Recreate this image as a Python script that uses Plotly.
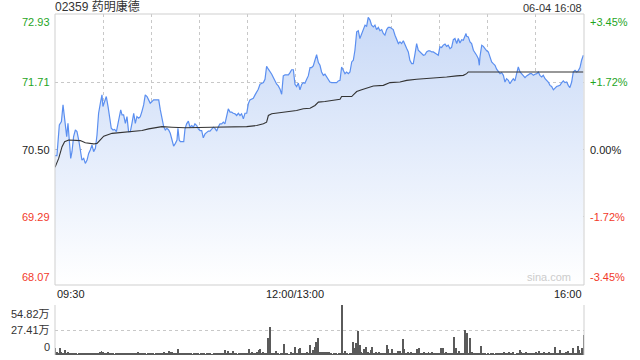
import plotly.graph_objects as go

# ---------------- data ----------------
title_text = "02359 药明康德"
date_text = "06-04 16:08"
prev_close = 70.50
y_ticks = [72.93, 71.71, 70.50, 69.29, 68.07]
pct_ticks = ["+3.45%", "+1.72%", "0.00%", "-1.72%", "-3.45%"]
vol_ticks = [0, 27.41, 54.82]
vol_tick_text = ["0", "27.41万", "54.82万"]
x_labels = ["09:30", "12:00/13:00", "16:00"]
x_label_pos = [0, 150, 330]

# minutes since 09:30 (lunch break removed) and price
price_t = [0, 1.2, 2.7, 4.0, 5.0, 5.8, 6.4, 7.3, 8.1, 8.9, 9.8, 10.6, 11.6, 12.7, 13.7, 14.8, 15.8, 16.8, 17.9, 18.9,
           20.0, 21.0, 22.0, 23.1, 24.1, 25.2, 26.2, 27.2, 28.3, 29.3, 29.9, 31.0, 32.0, 33.1, 34.1, 35.1, 36.2, 37.2, 38.3, 39.3,
           40.3, 41.0, 41.8, 42.8, 43.9, 44.9, 45.9, 47.0, 48.0, 49.1, 50.1, 51.1, 52.2, 53.2, 54.2, 55.3, 56.3, 57.4, 58.4, 59.4,
           60.5, 61.5, 62.6, 64.7, 65.7, 66.7, 67.8, 68.8, 69.8, 70.9, 71.9, 73.0, 74.0, 75.1, 76.1, 76.7, 77.5, 78.2, 79.2, 80.3,
           81.1, 82.1, 83.2, 84.2, 85.3, 86.3, 87.3, 88.4, 89.4, 90.5, 91.5, 92.5, 93.6, 94.6, 95.7, 96.7, 97.7, 98.8, 99.8, 100.9,
           101.9, 102.9, 104.0, 105.0, 106.0, 107.1, 108.1, 109.2, 110.2, 111.2, 112.3, 113.3, 114.4, 115.4, 116.4, 117.5, 118.5, 119.6, 120.6, 121.6,
           122.7, 123.7, 124.8, 125.8, 126.8, 127.9, 128.9, 130.0, 131.0, 132.0, 133.1, 134.1, 135.2, 136.2, 137.2, 138.3, 139.3, 140.4, 141.4, 142.4,
           143.5, 144.5, 145.6, 146.6, 147.6, 148.7, 149.7, 150.7, 151.8, 152.8, 153.9, 154.9, 155.9, 157.0, 158.0, 159.1, 160.1, 161.1, 162.2, 163.2,
           164.3, 165.3, 166.3, 167.4, 168.4, 169.5, 170.5, 171.5, 172.6, 173.6, 174.7, 175.7, 176.7, 177.8, 178.8, 179.9, 180.9, 181.9, 183.0, 184.0,
           185.1, 186.1, 187.1, 188.2, 189.2, 190.2, 191.3, 192.3, 193.4, 194.4, 195.4, 196.5, 197.5, 198.6, 199.6, 200.6, 201.7, 202.7, 203.8, 204.8,
           205.8, 206.9, 207.9, 209.0, 210.0, 211.0, 212.1, 213.1, 214.2, 215.2, 216.2, 217.3, 218.3, 219.4, 220.4, 221.4, 222.5, 223.5, 224.6, 225.6,
           226.6, 227.7, 228.7, 229.8, 230.8, 231.8, 232.9, 233.9, 235.0, 236.0, 237.0, 238.1, 239.1, 240.1, 241.2, 242.2, 243.3, 244.3, 245.3,
           246.4, 247.4, 248.5, 249.5, 250.6, 251.6, 252.6, 253.7, 254.7, 255.8, 256.4, 256.8, 257.8, 258.9, 259.9, 261.0, 262.0, 263.0, 264.1, 264.7,
           265.1, 266.2, 267.2, 268.2, 269.3, 270.3, 271.3, 272.4, 273.4, 274.5, 275.5, 276.5, 277.6, 278.6, 279.7, 280.7, 281.7, 282.8, 283.8, 284.9,
           285.9, 286.9, 288.0, 289.0, 290.1, 291.1, 292.1, 293.2, 294.2, 295.3, 296.3, 297.3, 298.4, 299.4, 300.5, 301.5, 302.5, 303.6, 304.6, 305.7,
           306.7, 307.7, 308.8, 309.8, 310.9, 311.9, 312.9, 314.0, 315.0, 316.1, 317.1, 318.1, 319.2, 320.2, 321.2, 322.3, 323.3, 324.4, 325.4, 326.4,
           327.5, 328.5, 329.6]
price_p = [70.39, 70.39, 70.94, 71.00, 71.30, 71.09, 70.85, 70.73, 70.97, 70.58, 70.34, 70.46, 70.73, 70.85, 70.82, 70.67, 70.46, 70.31, 70.34, 70.25,
           70.31, 70.43, 70.49, 70.58, 70.46, 70.52, 70.76, 71.15, 71.33, 71.48, 71.27, 71.36, 71.45, 71.27, 71.03, 70.88, 70.85, 70.86, 70.82, 70.97,
           71.15, 71.21, 71.12, 71.12, 70.97, 71.09, 70.82, 70.82, 70.97, 71.15, 70.97, 71.09, 71.06, 71.09, 71.18, 71.30, 71.48, 71.45, 71.39, 71.33,
           71.36, 71.39, 71.39, 71.39, 71.21, 71.03, 70.91, 70.85, 70.88, 70.85, 70.79, 70.67, 70.56, 70.61, 70.67, 70.88, 70.67, 70.64, 70.64, 70.64,
           70.87, 70.96, 71.01, 70.90, 70.93, 70.90, 70.96, 70.93, 70.87, 70.84, 70.84, 70.71, 70.78, 70.81, 70.83, 70.83, 70.87, 70.90, 70.88, 70.83,
           70.91, 70.96, 70.96, 70.99, 70.96, 71.08, 71.23, 71.17, 71.17, 71.15, 71.14, 71.11, 71.15, 71.11, 71.14, 71.05, 71.15, 71.15, 71.32, 71.39,
           71.41, 71.42, 71.48, 71.53, 71.58, 71.67, 71.69, 71.70, 71.76, 71.99, 71.94, 71.90, 71.85, 71.79, 71.73, 71.67, 71.64, 71.58, 71.49, 71.82,
           71.84, 71.84, 71.84, 71.88, 71.93, 71.93, 71.67, 71.63, 71.69, 71.57, 71.67, 71.70, 71.69, 71.76, 71.82, 71.97, 71.97, 72.00, 72.12, 72.20,
           72.06, 72.01, 71.89, 71.83, 71.85, 71.80, 71.77, 71.71, 71.70, 71.70, 71.70, 71.70, 71.73, 71.74, 71.98, 71.91, 71.86, 71.89, 71.86, 71.89,
           72.07, 72.10, 72.28, 72.61, 72.63, 72.49, 72.58, 72.67, 72.73, 72.71, 72.87, 72.82, 72.73, 72.70, 72.73, 72.65, 72.69, 72.63, 72.65, 72.58,
           72.55, 72.65, 72.69, 72.69, 72.67, 72.65, 72.55, 72.49, 72.40, 72.43, 72.40, 72.45, 72.37, 72.31, 72.25, 72.10, 72.04, 72.04, 72.22, 72.40,
           72.28, 72.25, 72.22, 72.19, 72.20, 72.25, 72.27, 72.27, 72.25, 72.25, 72.23, 72.21, 72.19, 72.34, 72.33, 72.37, 72.39, 72.35, 72.37,
           72.31, 72.33, 72.47, 72.49, 72.40, 72.49, 72.41, 72.47, 72.46, 72.55, 72.58, 72.53, 72.52, 72.43, 72.40, 72.28, 72.22, 72.19, 72.13, 72.01,
           72.16, 72.37, 72.35, 72.31, 72.27, 72.25, 72.16, 72.07, 72.04, 72.01, 71.94, 71.91, 71.86, 71.88, 71.83, 71.71, 71.77, 71.74, 71.68, 71.73,
           71.77, 71.73, 71.84, 71.98, 71.89, 71.86, 71.83, 71.79, 71.82, 71.85, 71.86, 71.86, 71.83, 71.85, 71.86, 71.89, 71.83, 71.80, 71.83, 71.77,
           71.74, 71.71, 71.65, 71.63, 71.57, 71.60, 71.63, 71.64, 71.65, 71.70, 71.73, 71.70, 71.71, 71.65, 71.61, 71.71, 71.89, 71.92, 71.89, 71.91,
           71.97, 72.10, 72.19]

avg_t = [0, 2.3, 4.4, 6.0, 8.5, 15.8, 18.9, 24.1, 26.2, 28.3, 30.4, 35.6, 46.0, 54.3, 58.4, 60.5, 66.7, 73.0, 81.1, 97.7,
         118.5, 119.6, 125.8, 130.0, 132.0, 133.1, 135.2, 138.3, 143.5, 147.6, 150.7, 154.9, 159.1, 162.2, 164.3, 168.4, 175.7, 177.8, 178.8, 185.1,
         186.1, 188.2, 191.3, 194.4, 198.6, 204.8, 209.0, 215.2, 219.4, 225.6, 231.8, 238.1, 244.3, 250.6, 254.7, 256.8, 257.8, 329.6]
avg_p = [70.18, 70.34, 70.55, 70.64, 70.67, 70.66, 70.62, 70.60, 70.61, 70.68, 70.74, 70.79, 70.82, 70.84, 70.87, 70.88, 70.91, 70.90, 70.89, 70.90,
         70.90, 70.91, 70.93, 70.96, 70.99, 71.11, 71.14, 71.15, 71.17, 71.19, 71.20, 71.23, 71.24, 71.29, 71.35, 71.36, 71.39, 71.40, 71.45, 71.45,
         71.48, 71.54, 71.57, 71.60, 71.64, 71.65, 71.70, 71.71, 71.74, 71.76, 71.77, 71.79, 71.80, 71.82, 71.83, 71.86, 71.89, 71.89]

# volume per minute (万股)
volume = [8.0, 3.7, 2.2, 7.3, 2.9, 2.0, 5.5, 2.2, 2.9, 1.8,
          2.0, 1.5, 2.2, 1.5, 1.1, 1.8, 1.5, 2.2, 1.5, 1.8,
          2.2, 1.5, 1.8, 2.2, 1.5, 2.5, 1.8, 2.2, 2.9, 4.7,
          3.7, 2.2, 1.8, 3.7, 2.2, 1.5, 1.8, 1.1, 2.2, 1.8,
          1.5, 2.2, 1.8, 1.5, 2.2, 1.8, 2.5, 1.5, 1.8, 2.2,
          1.5, 1.8, 2.9, 1.5, 2.2, 1.8, 1.5, 1.1, 1.8, 1.5,
          1.8, 1.5, 1.1, 1.5, 1.8, 2.2, 1.5, 1.8, 2.9, 2.2,
          2.5, 4.4, 3.7, 2.9, 2.2, 1.5, 1.8, 6.2, 1.5, 2.2,
          1.5, 1.8, 2.2, 1.5, 1.8, 1.5, 1.1, 1.5, 1.8, 1.5,
          1.1, 1.5, 1.8, 1.5, 1.1, 1.5, 1.8, 1.5, 1.1, 1.5,
          1.8, 1.5, 1.8, 2.2, 1.5, 2.2, 5.5, 1.8, 4.4, 2.2,
          2.2, 4.4, 1.5, 1.8, 1.1, 1.8, 1.5, 2.2, 1.8, 2.5,
          2.2, 6.2, 2.5, 3.7, 1.5, 2.2, 2.9, 5.5, 6.2, 2.5,
          3.7, 2.2, 1.8, 18.3, 30.7, 2.2, 1.5, 2.2, 4.4, 1.5,
          1.1, 1.8, 1.5, 12.1, 1.8, 1.5, 1.1, 3.7, 1.8, 2.2,
          9.1, 2.2, 6.6, 7.3, 1.8, 2.2, 1.5, 2.9, 1.8, 11.0,
          2.2, 5.5, 9.1, 14.6, 19.0, 2.9, 3.3, 2.9, 3.3, 2.9,
          3.3, 2.9, 1.5, 1.1, 1.8, 1.5, 1.1, 1.8, 2.2, 54.8,
          2.2, 4.4, 1.5, 1.1, 1.5, 2.2, 14.6, 8.0, 13.5, 26.7,
          11.0, 3.7, 2.2, 6.6, 8.4, 2.9, 2.2, 5.5, 8.4, 2.2,
          2.9, 1.8, 3.7, 2.2, 1.5, 1.8, 2.2, 11.0, 6.6, 1.8,
          6.6, 2.2, 1.5, 1.8, 4.4, 4.4, 1.8, 17.5, 6.6, 2.2,
          3.7, 1.8, 3.7, 2.2, 1.5, 2.2, 6.6, 8.0, 1.8, 2.2,
          2.9, 1.5, 2.2, 3.7, 1.8, 2.9, 2.2, 1.5, 1.8, 2.2,
          2.2, 8.0, 8.0, 1.8, 2.9, 1.5, 1.8, 1.5, 2.2, 20.1,
          7.3, 1.8, 4.7, 2.2, 1.5, 1.8, 27.4, 24.5, 1.8, 19.0,
          2.9, 2.2, 1.5, 1.8, 2.2, 1.5, 9.9, 1.8, 1.5, 1.1,
          1.5, 1.1, 1.5, 1.8, 1.1, 1.5, 1.8, 2.2, 1.5, 1.8,
          3.3, 1.8, 1.5, 3.3, 1.8, 1.5, 2.9, 1.1, 1.8, 1.5,
          5.5, 3.7, 1.8, 1.5, 3.7, 1.5, 1.8, 2.2, 1.5, 1.8,
          2.9, 1.5, 4.4, 1.8, 1.5, 2.9, 1.8, 1.5, 3.7, 1.8,
          1.5, 2.2, 9.1, 1.8, 1.5, 5.5, 1.8, 2.2, 1.5, 3.7,
          4.7, 2.2, 1.8, 8.0, 2.2, 1.8, 10.2, 5.5, 2.2, 8.0,
          21.9]
vol_t = list(range(len(volume)))

if len(price_t) != len(price_p) or len(avg_t) != len(avg_p):
    raise ValueError("length mismatch %d %d %d %d" % (len(price_t), len(price_p), len(avg_t), len(avg_p)))

# ---------------- styling ----------------
FONT = "Liberation Sans, Arial, Noto Sans CJK SC, sans-serif"
GREEN = "#1fa51f"
RED = "#f23a2a"
BLACK = "#222222"
GRID = "#c8c8c8"
BORDER = "#cfcfcf"
label_colors = [GREEN, GREEN, BLACK, RED, RED]

W, H = 640, 360
ML, MR, MT, MB = 55, 56, 14, 5
plot_h = H - MT - MB
main_bottom = (355 - 285) / plot_h
vol_top = (355 - 305) / plot_h

fig = go.Figure()

fig.add_trace(go.Scatter(
    x=price_t, y=price_p, mode="lines",
    line=dict(color="#5b8ff0", width=1.2),
    fill="tozeroy",
    fillgradient=dict(type="vertical",
                      colorscale=[[0, "rgba(255,255,255,1)"], [1, "rgba(200,217,247,1)"]],
                      start=y_ticks[-1], stop=y_ticks[0]),
    xaxis="x", yaxis="y", hoverinfo="skip", showlegend=False))

fig.add_trace(go.Scatter(
    x=avg_t, y=avg_p, mode="lines",
    line=dict(color="#333333", width=1.1),
    xaxis="x", yaxis="y", hoverinfo="skip", showlegend=False))

fig.add_trace(go.Bar(
    x=vol_t, y=volume, width=0.6,
    marker=dict(color="#5a5a5a", line=dict(width=0)),
    xaxis="x2", yaxis="y2", hoverinfo="skip", showlegend=False))

fig.update_layout(
    width=W, height=H,
    margin=dict(l=ML, r=MR, t=MT, b=MB),
    paper_bgcolor="white", plot_bgcolor="white",
    font=dict(family=FONT, size=11, color=BLACK),
    xaxis=dict(domain=[0, 1], range=[0, 330], anchor="y",
               tickvals=list(range(30, 330, 30)), showticklabels=False,
               showgrid=True, gridcolor=GRID, griddash="dot", gridwidth=1,
               zeroline=False, showline=False, ticks=""),
    yaxis=dict(domain=[main_bottom, 1], range=[y_ticks[-1], y_ticks[0]],
               tickvals=[y_ticks[1], y_ticks[3]], showticklabels=False,
               showgrid=True, gridcolor=GRID, griddash="dot", gridwidth=1,
               zeroline=False, showline=False, ticks=""),
    xaxis2=dict(domain=[0, 1], range=[0, 330], anchor="y2",
                showticklabels=False, showgrid=False, zeroline=False, showline=False, ticks=""),
    yaxis2=dict(domain=[0, vol_top], range=[0, vol_ticks[-1]],
                tickvals=vol_ticks[1:], showticklabels=False,
                showgrid=True, gridcolor=GRID, griddash="dot", gridwidth=1,
                zeroline=False, showline=False, ticks=""),
    bargap=0,
)

shapes = []
# main panel border
shapes.append(dict(type="rect", xref="paper", yref="paper", x0=0, x1=1, y0=main_bottom, y1=1,
                   line=dict(color=BORDER, width=1), layer="above"))
# previous close line
shapes.append(dict(type="line", xref="paper", yref="y", x0=0, x1=1, y0=prev_close, y1=prev_close,
                   line=dict(color="#b8b8b8", width=1, dash="dash"), layer="below"))
# volume panel side borders
for xp in (0, 1):
    shapes.append(dict(type="line", xref="paper", yref="paper", x0=xp, x1=xp, y0=0, y1=vol_top,
                       line=dict(color=BORDER, width=1)))
fig.update_layout(shapes=shapes)

ann = []
for v, pct, c in zip(y_ticks, pct_ticks, label_colors):
    if v == y_ticks[0]:
        ya = "top"
    elif v == y_ticks[-1]:
        ya = "bottom"
    else:
        ya = "middle"
    ann.append(dict(xref="paper", yref="y", x=0, y=v, text="%.2f" % v, showarrow=False,
                    xanchor="right", yanchor=ya, xshift=-3, font=dict(color=c, size=11)))
    ann.append(dict(xref="paper", yref="y", x=1, y=v, text=pct, showarrow=False,
                    xanchor="left", yanchor=ya, xshift=4, font=dict(color=c, size=11)))

for v, t in zip(vol_ticks, vol_tick_text):
    ya = "bottom" if v == 0 else ("top" if v == vol_ticks[-1] else "middle")
    ann.append(dict(xref="paper", yref="y2", x=0, y=v, text=t, showarrow=False,
                    xanchor="right", yanchor=ya, xshift=-3, yshift=(-1 if v == vol_ticks[-1] else 0),
                    font=dict(color="#333333", size=11)))

anchors = ["left", "center", "right"]
for lab, pos, xa in zip(x_labels, x_label_pos, anchors):
    ann.append(dict(xref="x", yref="y", x=pos, y=y_ticks[-1], text=lab, showarrow=False,
                    xanchor=xa, yanchor="top", yshift=-1, font=dict(color="#222222", size=11)))

ann.append(dict(xref="paper", yref="paper", x=0, y=1, text=title_text, showarrow=False,
                xanchor="left", yanchor="bottom", yshift=-2, xshift=-2, font=dict(color="#333333", size=12)))
ann.append(dict(xref="paper", yref="paper", x=1, y=1, text=date_text, showarrow=False,
                xanchor="right", yanchor="bottom", yshift=-2, font=dict(color="#333333", size=11)))
ann.append(dict(xref="x", yref="y", x=323, y=y_ticks[-1], text="sina.com", showarrow=False,
                xanchor="right", yanchor="bottom", font=dict(color="#cccccc", size=11)))
fig.update_layout(annotations=ann)

fig.write_html("out.html")
